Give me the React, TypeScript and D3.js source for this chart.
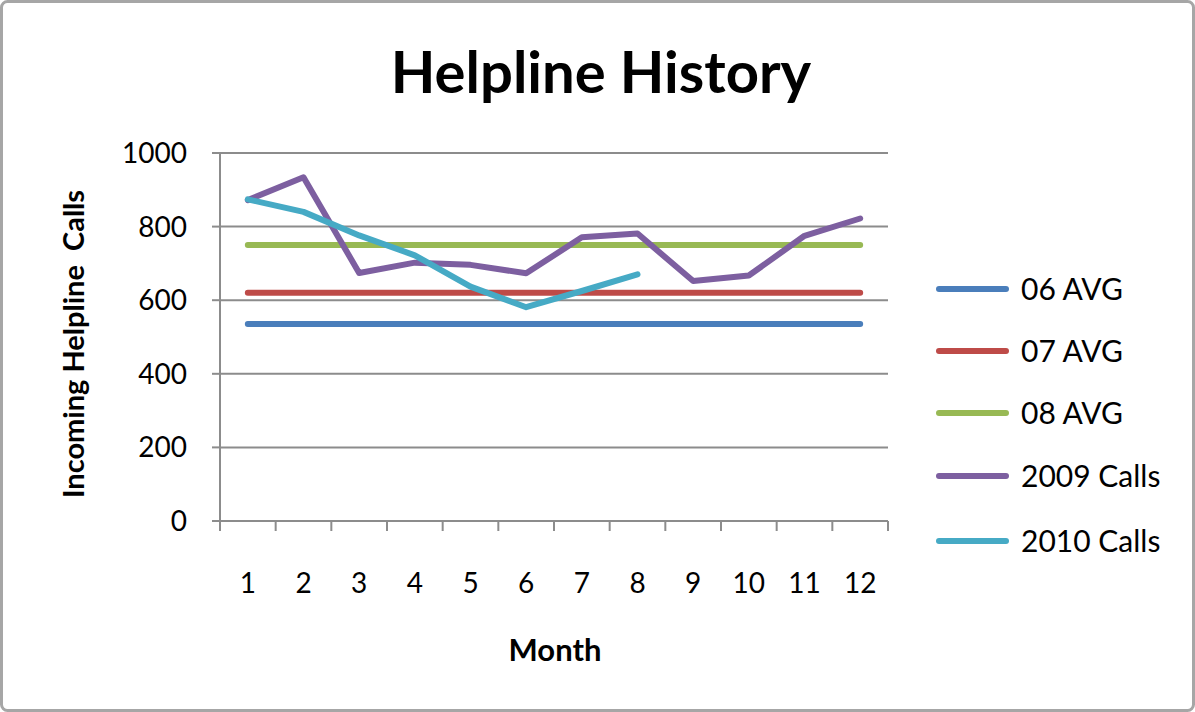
import React from "react";
import * as d3 from "d3";

const months = [1, 2, 3, 4, 5, 6, 7, 8, 9, 10, 11, 12];
const avg06 = [535, 535, 535, 535, 535, 535, 535, 535, 535, 535, 535, 535];
const avg07 = [620, 620, 620, 620, 620, 620, 620, 620, 620, 620, 620, 620];
const avg08 = [750, 750, 750, 750, 750, 750, 750, 750, 750, 750, 750, 750];
const calls2009 = [872, 934, 674, 702, 696, 673, 771, 781, 652, 667, 775, 822];
const calls2010 = [874, 840, 776, 722, 637, 581, 625, 670];
const seriesNames = ["06 AVG", "07 AVG", "08 AVG", "2009 Calls", "2010 Calls"];
const seriesColors = ["#4a7ebb", "#be4b48", "#98b954", "#7d5fa0", "#46aac5"];
const yTicks = [0, 200, 400, 600, 800, 1000];

export default function App() {
  const W = 1195, H = 712;
  const x0 = 220, x1 = 888, yTop = 153, yBot = 521;
  const x = d3.scaleBand<number>().domain(months).range([x0, x1]);
  const xc = (m: number) => (x(m) as number) + x.bandwidth() / 2;
  const y = d3.scaleLinear().domain([0, 1000]).range([yBot, yTop]);
  const line = d3.line<number>().x((_, i) => xc(months[i])).y((v) => y(v));
  const series = [avg06, avg07, avg08, calls2009, calls2010];
  const font = "Lato, 'Open Sans', sans-serif";
  const legendY = [289, 351, 413, 476, 541];
  const boundaries = d3.range(13).map((i) => x0 + i * x.bandwidth());
  return (
    <svg width={W} height={H} style={{ position: "absolute", left: 0, top: 0 }} fontFamily={font}>
      <rect x={1.5} y={1.5} width={W - 3} height={H - 3} rx={6} fill="#fff" stroke="#a6a6a6" strokeWidth={3} />
      <text x={601} y={93} textAnchor="middle" fontSize={58} fontWeight="bold" fill="#000">Helpline History</text>
      {yTicks.map((t) => (
        <g key={t}>
          {t > 0 && <line x1={x0} x2={x1} y1={y(t)} y2={y(t)} stroke="#8c8c8c" strokeWidth={2} />}
          <line x1={x0 - 8} x2={x0} y1={y(t)} y2={y(t)} stroke="#8c8c8c" strokeWidth={2} />
          <text x={187} y={y(t) + 10} textAnchor="end" fontSize={28} fill="#000">{t}</text>
        </g>
      ))}
      <line x1={x0} x2={x0} y1={yTop} y2={yBot} stroke="#8c8c8c" strokeWidth={2} />
      <line x1={x0 - 8} x2={x1} y1={yBot} y2={yBot} stroke="#8c8c8c" strokeWidth={2} />
      {boundaries.map((b, i) => (
        <line key={i} x1={b} x2={b} y1={yBot} y2={yBot + 10} stroke="#8c8c8c" strokeWidth={2} />
      ))}
      {months.map((m) => (
        <text key={m} x={xc(m)} y={593} textAnchor="middle" fontSize={28} fill="#000">{m}</text>
      ))}
      <text x={555} y={661} textAnchor="middle" fontSize={31} fontWeight="bold" fill="#000">Month</text>
      <text transform={`translate(84,344) rotate(-90)`} textAnchor="middle" fontSize={29} fontWeight="bold" fill="#000" style={{ whiteSpace: "pre" }}>{"Incoming Helpline  Calls"}</text>
      {series.map((s, i) => (
        <path key={i} d={line(s) || ""} fill="none" stroke={seriesColors[i]} strokeWidth={6} strokeLinecap="round" strokeLinejoin="round" />
      ))}
      {seriesNames.map((n, i) => (
        <g key={n}>
          <line x1={939} x2={1006} y1={legendY[i]} y2={legendY[i]} stroke={seriesColors[i]} strokeWidth={6} strokeLinecap="round" />
          <text x={1021} y={legendY[i] + 11} fontSize={30} fill="#000">{n}</text>
        </g>
      ))}
    </svg>
  );
}
